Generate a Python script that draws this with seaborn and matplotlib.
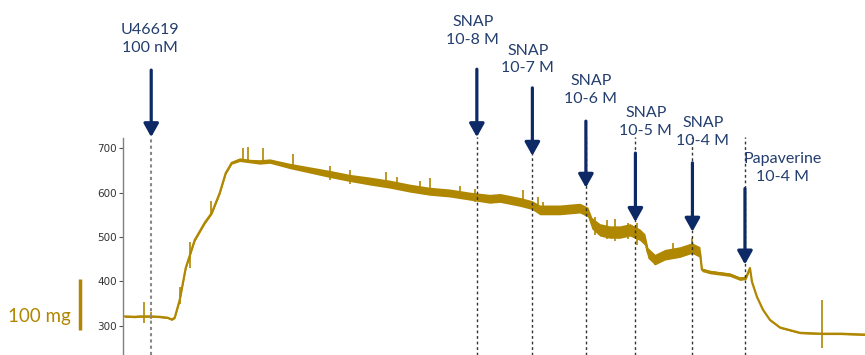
import seaborn as sns
import pandas as pd
from matplotlib import pyplot as plt

# Isometric tension trace (time axis in arbitrary units, tension in mg)
trace_t = [2, 12, 17, 28, 37, 45, 49, 52,
           57, 63, 72, 82, 89, 97, 103, 109,
           117, 127, 137, 147,
           167, 187, 207, 227,
           247, 267, 287, 307, 327, 347, 367,
           377, 397, 409, 417, 437, 457, 465,
           469, 477, 487, 497, 507, 517, 522,
           525, 532, 542, 557, 569, 577,
           579, 587, 607, 617, 623,
           627, 629, 634, 640, 647, 657, 677, 699, 717, 742]
trace_mg = [321, 320, 321, 321, 320, 318, 314, 318,
            358, 430, 493, 532, 554, 599, 644, 667,
            674, 671, 669, 671,
            660, 651, 642, 633,
            626, 619, 610, 603, 599, 592, 586,
            588, 579, 572, 561, 561, 565, 556,
            531, 516, 511, 511, 516, 505, 494,
            464, 449, 460, 466, 475, 466,
            426, 421, 415, 406, 408,
            430, 399, 365, 336, 313, 296, 284, 282, 282, 280]
trace_noise = [2, 2, 2, 2, 2, 2, 2, 2,
               3, 3, 3, 3, 3, 3, 3, 3,
               4, 4, 5, 5,
               6, 7, 8, 8,
               9, 9, 9, 9, 9, 9, 10,
               10, 10, 10, 11, 11, 11, 11,
               13, 14, 14, 14, 14, 13, 13,
               12, 12, 12, 12, 12, 12,
               4, 4, 4, 4, 4,
               3, 2, 2, 2, 2, 2, 2, 2, 2, 2]

# Artefact spikes on the trace
spike_t = [21, 28, 57, 67, 88, 120, 125, 140, 170, 207, 227, 263, 274, 297, 307,
           337, 352, 400, 415, 420, 472, 484, 492, 505, 514, 532, 550, 569, 699]
spike_top = [354, 330, 388, 488, 582, 701, 703, 700, 687, 660, 650, 647, 635, 625, 633,
             614, 608, 605, 590, 578, 545, 538, 540, 531, 531, 455, 486, 497, 358]
spike_bottom = [307, 314, 350, 430, 550, 670, 670, 668, 658, 628, 620, 615, 612, 598, 598,
                585, 578, 570, 560, 550, 505, 495, 492, 495, 482, 436, 450, 460, 250]

# Drug additions
event_t = [28.5, 354, 409.5, 463, 512.5, 569.5, 622]
event_labels = ['U46619\n100 nM', 'SNAP\n10-8 M', 'SNAP\n10-7 M', 'SNAP\n10-6 M',
                'SNAP\n10-5 M', 'SNAP\n10-4 M', 'Papaverine\n10-4 M']
arrow_tip = [725, 725, 683, 611, 534, 512, 438]
arrow_top = [876, 878, 836, 761, 689, 667, 609]
label_t = [27, 350, 405, 468, 523, 580, 660]
label_mg = [946, 964, 900, 832, 760, 736, 655]

y_ticks = [300, 400, 500, 600, 700]

gold = '#B08700'
navy = '#0E2A66'
text_navy = '#233D6E'

sns.set_style('white')
plt.rcParams['font.family'] = ['DejaVu Sans']

df = pd.DataFrame({'t': trace_t, 'mg': trace_mg, 'noise': trace_noise})

fig = plt.figure(figsize=(8.65, 3.55), dpi=100)
ax = fig.add_axes([122.7 / 865, 0, 1 - 122.7 / 865, 217 / 355])

# Noise band, spikes and trace
ax.fill_between(df['t'], df['mg'] - df['noise'], df['mg'] + df['noise'],
                color=gold, linewidth=0)
ax.vlines(spike_t, spike_bottom, spike_top, color=gold, linewidth=1.2)
sns.lineplot(data=df, x='t', y='mg', ax=ax, color=gold, linewidth=1.6,
             estimator=None, sort=False)

ax.set_xlim(0, 742)
ax.set_ylim(234, 723)

# Event markers
for i, (t, tip, top, lt, lm, lab) in enumerate(zip(event_t, arrow_tip, arrow_top,
                                                  label_t, label_mg, event_labels)):
    if i == 0:
        ax.vlines(t, 234, 725, color='#888888', linewidth=1.5, linestyles=(0, (1.5, 1.5)),
                  clip_on=False)
    else:
        ax.vlines(t, 234, 725, color='#333333', linewidth=1, linestyles=(0, (2, 2)),
                  clip_on=False)
    ax.annotate('', xy=(t, tip), xytext=(t, top), annotation_clip=False,
                arrowprops=dict(arrowstyle='-|>,head_length=0.5,head_width=0.28',
                                mutation_scale=16, lw=2.3, color=navy,
                                shrinkA=0, shrinkB=0))
    ax.text(lt, lm, lab, ha='center', va='center', fontsize=11.5, color=text_navy,
            family='Lato', linespacing=1.35, clip_on=False)

# Scale bar
ax.vlines(-43, 291, 406, color=gold, linewidth=2.5, clip_on=False)
ax.text(-83, 320, '100 mg', ha='center', va='center', fontsize=13.5, color=gold,
        family='Lato', clip_on=False)

ax.set_yticks(y_ticks)
ax.set_xticks([])
ax.set_xlabel('')
ax.set_ylabel('')
ax.tick_params(axis='y', left=True, length=3, width=0.8, color='#555555',
               labelsize=7.5, labelcolor='#333333', pad=1)
for side in ['top', 'right', 'bottom']:
    ax.spines[side].set_visible(False)
ax.spines['left'].set_color('#808080')
ax.spines['left'].set_linewidth(1)

plt.savefig('out.png', dpi=100)
